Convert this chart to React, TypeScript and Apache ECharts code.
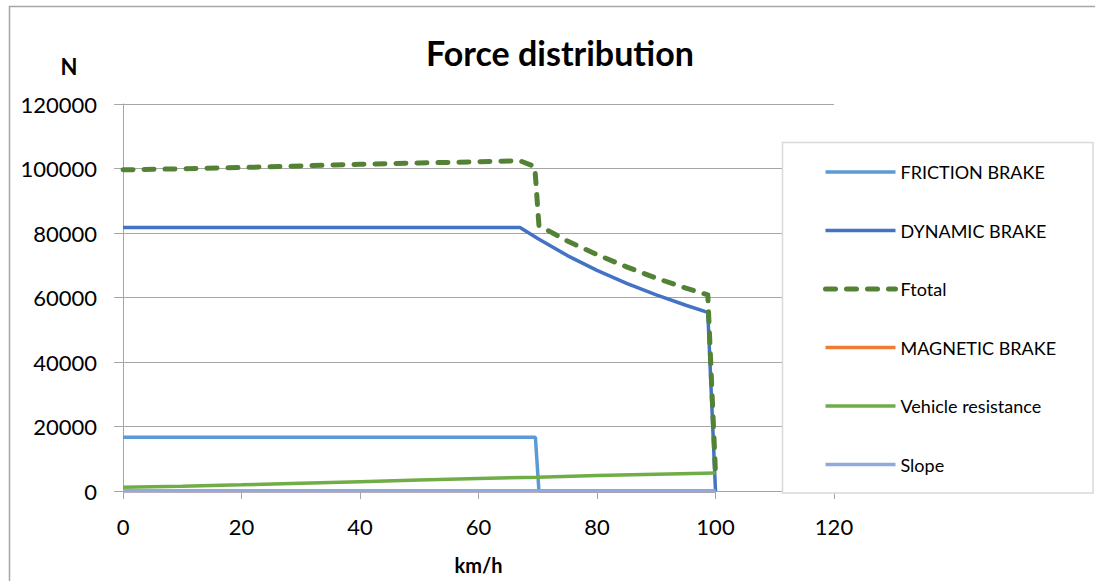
import React, { useEffect, useRef } from "react";
import * as echarts from "echarts";

const xTicks = [0, 20, 40, 60, 80, 100, 120];
const yTicks = [0, 20000, 40000, 60000, 80000, 100000, 120000];

const frictionBrake: [number, number][] = [
  [0, 16700], [69.6, 16700], [70.2, 0], [100, 0],
];
const dynamicBrake: [number, number][] = [
  [0, 81700], [67, 81700], [70, 78300], [75, 73000], [80, 68400], [85, 64400],
  [90, 60800], [95, 57600], [98.7, 55400], [100, 0],
];
const fTotal: [number, number][] = [
  [0, 99600], [10, 99900], [20, 100300], [30, 100800], [40, 101300], [50, 101700],
  [60, 102100], [67, 102400], [69.5, 100600], [70.2, 82300], [72, 80500], [75, 77500],
  [80, 73300], [85, 69500], [90, 66000], [95, 62900], [98.7, 60800], [100, 5600],
];
const magneticBrake: [number, number][] = [[0, 0], [100, 0]];
const vehicleResistance: [number, number][] = [
  [0, 1200], [10, 1500], [20, 1900], [30, 2400], [40, 2900], [50, 3400],
  [60, 3900], [70, 4300], [80, 4800], [90, 5200], [100, 5600],
];
const slope: [number, number][] = [[0, 0], [100, 0]];

const FONT = "Lato, 'Open Sans', sans-serif";
const GRAY = "#A6A6A6";

const SERIES = [
  { name: "FRICTION BRAKE", data: frictionBrake, color: "#5B9BD5", width: 3.5, dash: null },
  { name: "DYNAMIC BRAKE", data: dynamicBrake, color: "#4472C4", width: 3.5, dash: null },
  { name: "Ftotal", data: fTotal, color: "#548235", width: 5, dash: [10, 11] },
  { name: "MAGNETIC BRAKE", data: magneticBrake, color: "#ED7D31", width: 3.5, dash: null },
  { name: "Vehicle resistance", data: vehicleResistance, color: "#70AD47", width: 3.5, dash: null },
  { name: "Slope", data: slope, color: "#8FAADC", width: 3.5, dash: null },
];

export default function App() {
  const ref = useRef<HTMLDivElement>(null);
  useEffect(() => {
    if (!ref.current) return;
    const chart = echarts.init(ref.current, null, { renderer: "svg" });
    const lineStyleOf = (s: any) =>
      s.dash
        ? { color: s.color, width: s.width, type: s.dash, cap: "round", join: "round" }
        : { color: s.color, width: s.width };
    chart.setOption({
      animation: false,
      backgroundColor: "#ffffff",
      textStyle: { fontFamily: FONT },
      title: {
        text: "Force distribution",
        left: 555,
        textAlign: "center",
        top: 30,
        textStyle: { fontFamily: FONT, fontSize: 34, fontWeight: "bold", color: "#000" },
      },
      grid: { left: 123, top: 104, width: 711, height: 387, containLabel: false },
      xAxis: {
        type: "value",
        min: xTicks[0],
        max: xTicks[xTicks.length - 1],
        interval: 20,
        name: "km/h",
        nameLocation: "middle",
        nameGap: 64,
        nameTextStyle: { fontFamily: FONT, fontSize: 20, fontWeight: "bold", color: "#000" },
        axisLine: { show: true, onZero: false, lineStyle: { color: GRAY, width: 1 } },
        axisTick: { show: true, length: 8, lineStyle: { color: GRAY } },
        axisLabel: { fontFamily: FONT, fontSize: 22, color: "#000", margin: 24 },
        splitLine: { show: false },
      },
      yAxis: {
        type: "value",
        min: yTicks[0],
        max: yTicks[yTicks.length - 1],
        interval: 20000,
        axisLine: { show: true, lineStyle: { color: GRAY, width: 1 } },
        axisTick: { show: true, length: 9, lineStyle: { color: GRAY } },
        axisLabel: { fontFamily: FONT, fontSize: 22, color: "#000", margin: 26, formatter: (v: number) => String(v) },
        splitLine: { show: true, lineStyle: { color: GRAY, width: 1 } },
      },
      legend: {
        orient: "vertical",
        left: 823,
        top: 162,
        padding: 0,
        itemWidth: 70,
        itemHeight: 20,
        itemGap: 38.5,
        z: 10,
        itemStyle: { opacity: 0 },
        textStyle: { fontFamily: FONT, fontSize: 18, color: "#000", lineHeight: 20 },
        data: SERIES.map((s) => ({ name: s.name, lineStyle: lineStyleOf(s), itemStyle: { opacity: 0 } })),
      },
      graphic: [
        {
          type: "rect",
          z: -10,
          silent: true,
          shape: { x: 9.5, y: 6.5, width: 1200, height: 700 },
          style: { fill: "none", stroke: GRAY, lineWidth: 1.5 },
        },
        {
          type: "rect",
          z: 8,
          silent: true,
          shape: { x: 782.5, y: 142.5, width: 310.5, height: 350.5 },
          style: { fill: "#ffffff", stroke: "#D9D9D9", lineWidth: 1.5 },
        },
        {
          type: "text",
          z: 9,
          x: 69,
          y: 66,
          style: {
            text: "N",
            fontFamily: FONT,
            fontSize: 22,
            fontWeight: "bold",
            fill: "#000",
            align: "center",
            verticalAlign: "middle",
          },
        },
      ],
      series: SERIES.map((s) => ({
        name: s.name,
        type: "line",
        data: s.data,
        symbol: "none",
        showSymbol: false,
        lineStyle: lineStyleOf(s),
        itemStyle: { color: s.color },
        z: 2,
      })),
    });
    return () => chart.dispose();
  }, []);
  return (
    <div
      ref={ref}
      style={{ position: "fixed", left: 0, top: 0, width: 1095, height: 581, background: "#fff" }}
    />
  );
}
